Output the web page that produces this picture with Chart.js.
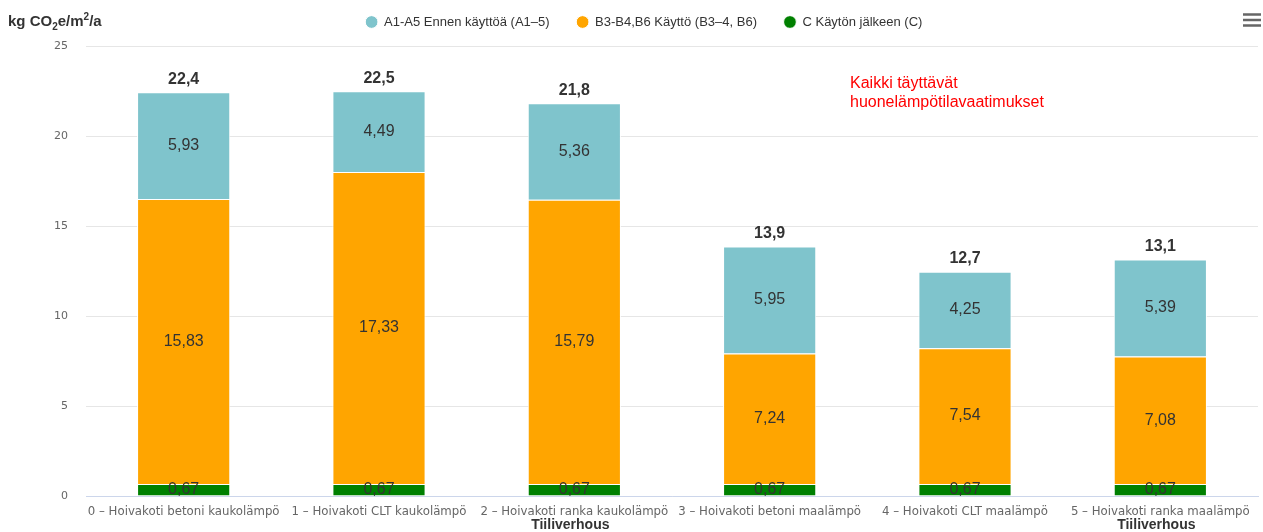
<!DOCTYPE html>
<html>
<head>
<meta charset="utf-8">
<script src="https://cdn.jsdelivr.net/npm/chart.js"></script>
<style>
  body { margin: 0; background: #fff; }
  #wrap { width: 1263px; height: 532px; }
</style>
</head>
<body>
<div id="wrap"><canvas id="myChart" width="1263" height="532"></canvas></div>
<script>
// categories (x axis)
var categories = [
  "0 – Hoivakoti betoni kaukolämpö",
  "1 – Hoivakoti CLT kaukolämpö",
  "2 – Hoivakoti ranka kaukolämpö",
  "3 – Hoivakoti betoni maalämpö",
  "4 – Hoivakoti CLT maalämpö",
  "5 – Hoivakoti ranka maalämpö"
];
var subLabels = ["", "", "Tiiliverhous", "", "", "Tiiliverhous"];

// series
var seriesA = [5.93, 4.49, 5.36, 5.95, 4.25, 5.39];      // A1-A5
var seriesB = [15.83, 17.33, 15.79, 7.24, 7.54, 7.08];   // B3-B4,B6
var seriesC = [0.67, 0.67, 0.67, 0.67, 0.67, 0.67];      // C
var totals = [22.4, 22.5, 21.8, 13.9, 12.7, 13.1];

var yTicks = [0, 5, 10, 15, 20, 25];

function fmt(v, d) {
  return v.toFixed(d).replace('.', ',');
}

var ARIAL = '"Liberation Sans", Arial, sans-serif';

// value labels inside the bars and totals on top
var valueLabels = {
  id: 'valueLabels',
  afterDatasetsDraw: function(chart) {
    var ctx = chart.ctx;
    ctx.save();
    ctx.textAlign = 'center';
    ctx.textBaseline = 'middle';
    ctx.font = '16px ' + ARIAL;
    chart.data.datasets.forEach(function(ds, di) {
      chart.getDatasetMeta(di).data.forEach(function(bar, i) {
        ctx.fillStyle = '#333333';
        ctx.fillText(fmt(ds.data[i], 2), bar.x, (bar.y + bar.base) / 2);
      });
    });
    var top = chart.getDatasetMeta(chart.data.datasets.length - 1);
    ctx.font = 'bold 16px ' + ARIAL;
    top.data.forEach(function(bar, i) {
      ctx.fillStyle = '#333333';
      ctx.fillText(fmt(totals[i], 1), bar.x, bar.y - 13);
    });
    ctx.restore();
  }
};

// extra text: axis unit, note, second label line, menu icon
var extras = {
  id: 'extras',
  afterDraw: function(chart) {
    var ctx = chart.ctx;
    ctx.save();
    // unit
    ctx.fillStyle = '#333333';
    ctx.textBaseline = 'alphabetic';
    ctx.textAlign = 'left';
    var x = 8, y = 26;
    var parts = [["kg CO", 0, 15], ["2", 4, 10], ["e/m", 0, 15], ["2", -6, 10], ["/a", 0, 15]];
    parts.forEach(function(p) {
      ctx.font = 'bold ' + p[2] + 'px ' + ARIAL;
      ctx.fillText(p[0], x, y + p[1]);
      x += ctx.measureText(p[0]).width;
    });

    // note
    ctx.fillStyle = '#ff0000';
    ctx.font = '16px ' + ARIAL;
    ctx.textBaseline = 'middle';
    ctx.fillText('Kaikki täyttävät', 850, 84);
    ctx.fillText('huonelämpötilavaatimukset', 850, 103);

    // second line of category labels
    var xs = chart.scales.x;
    ctx.fillStyle = '#333333';
    ctx.font = 'bold 14px ' + ARIAL;
    ctx.textAlign = 'center';
    subLabels.forEach(function(s, i) {
      if (s) ctx.fillText(s, xs.getPixelForValue(i) - 4, 525);
    });

    // menu icon
    ctx.strokeStyle = '#666666';
    ctx.lineWidth = 2.5;
    [14.5, 20, 25.5].forEach(function(ly) {
      ctx.beginPath();
      ctx.moveTo(1243, ly);
      ctx.lineTo(1261, ly);
      ctx.stroke();
    });
    ctx.restore();
  }
};

var chart = new Chart(document.getElementById('myChart'), {
  type: 'bar',
  data: {
    labels: categories,
    datasets: [
      { label: 'C Käytön jälkeen (C)', data: seriesC, backgroundColor: '#008000' },
      { label: 'B3-B4,B6 Käyttö (B3–4, B6)', data: seriesB, backgroundColor: '#ffa500' },
      { label: 'A1-A5 Ennen käyttöä (A1–5)', data: seriesA, backgroundColor: '#7fc4cc' }
    ]
  },
  options: {
    responsive: false,
    animation: false,
    layout: { padding: { top: -11.5, right: 5, left: 30, bottom: 0 } },
    datasets: {
      bar: {
        categoryPercentage: 1,
        barPercentage: 0.477,
        borderColor: '#ffffff',
        borderWidth: 1
      }
    },
    plugins: {
      legend: {
        reverse: true,
        labels: {
          usePointStyle: true,
          pointStyle: 'circle',
          boxWidth: 12,
          boxHeight: 9,
          padding: 27,
          color: '#333333',
          font: { family: ARIAL, size: 13 }
        }
      },
      // empty spacer between legend and plot
      title: {
        display: true,
        text: '',
        weight: 500,
        padding: 0,
        font: { size: 6, lineHeight: 1.25 }
      },
      tooltip: { enabled: false }
    },
    scales: {
      x: {
        stacked: true,
        grid: { display: false, drawTicks: false },
        border: { color: '#ccd6eb', width: 1 },
        ticks: {
          autoSkip: false,
          maxRotation: 0,
          padding: 9,
          color: '#666666',
          font: { family: '"DejaVu Sans", sans-serif', size: 11.75 }
        },
        afterFit: function(s) { s.height = 36; }
      },
      y: {
        stacked: true,
        min: 0,
        max: 25,
        afterBuildTicks: function(s) {
          s.ticks = yTicks.map(function(v) { return { value: v }; });
        },
        grid: { color: '#e6e6e6', drawTicks: false },
        border: { display: false },
        ticks: {
          padding: 18,
          color: '#666666',
          font: { family: '"DejaVu Sans", sans-serif', size: 11 }
        },
        afterFit: function(s) { s.width = 56; }
      }
    }
  },
  plugins: [valueLabels, extras]
});
</script>
</body>
</html>
